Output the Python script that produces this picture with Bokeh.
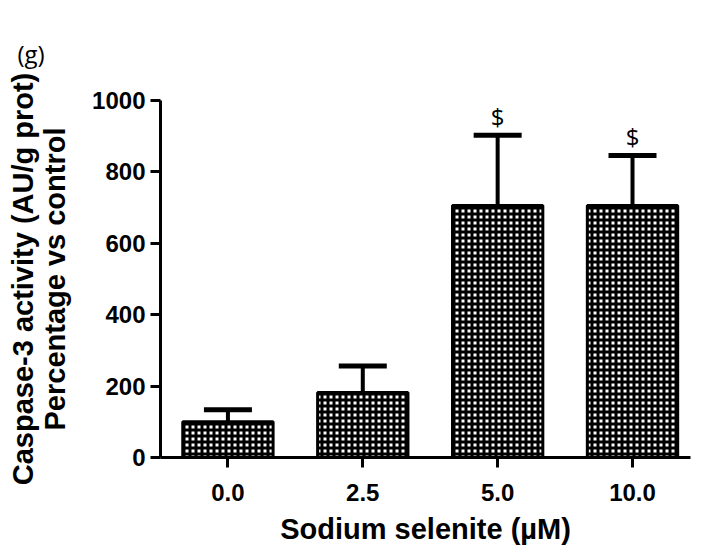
from bokeh.plotting import figure
from bokeh.models import ColumnDataSource, Range1d, FixedTicker, Whisker, TeeHead
from bokeh.core.properties import value
from bokeh.embed import file_html
from bokeh.resources import INLINE

categories = ["0.0", "2.5", "5.0", "10.0"]
means = [100, 182, 706, 706]
upper = [134, 256, 903, 846]
marks = ["", "", "$", "$"]
panel = "(g)"

xs = list(range(len(categories)))
src = ColumnDataSource(dict(x=xs, top=means, upper=upper, mark=marks))

p = figure(width=710, height=553, output_backend="svg", toolbar_location=None,
           x_range=Range1d(-0.5, 3.43), y_range=Range1d(0, 1000),
           min_border_left=160, min_border_right=20, min_border_top=100, min_border_bottom=96)
p.outline_line_color = None
p.grid.grid_line_color = None

# panel letter as the title, pushed to the top-left corner
p.title.text = panel
p.title.align = "left"
p.title.offset = -143
p.title.text_font = "Open Sans"
p.title.text_font_style = "normal"
p.title.text_font_size = "24px"
p.title.text_color = "black"
p.title.standoff = 62

# error bars (upper only)
p.segment(x0="x", y0="top", x1="x", y1="upper", source=src, line_color="black", line_width=4)
w = Whisker(source=src, base="x", upper="upper", lower="upper",
            line_width=0, line_alpha=0)
w.upper_head = TeeHead(size=48, line_width=5, line_color="black")
w.lower_head = None
p.add_layout(w)

p.vbar(x="x", top="top", bottom=0, width=0.67, source=src,
       fill_color="white", line_color="black", line_width=3,
       hatch_pattern="cross", hatch_color="black", hatch_scale=6, hatch_weight=3)

p.text(x="x", y="upper", text="mark", source=src, text_align="center", text_baseline="bottom",
       y_offset=-2, text_font=value("Open Sans"), text_font_size="24px", text_color="black")

for ax in (p.xaxis[0], p.yaxis[0]):
    ax.axis_line_width = 3
    ax.major_tick_line_width = 3
    ax.major_tick_out = 10
    ax.major_tick_in = 0
    ax.minor_tick_line_color = None
    ax.major_label_text_font = "Liberation Sans"
    ax.major_label_text_font_style = "bold"
    ax.major_label_text_font_size = "24px"
    ax.major_label_text_color = "black"
    ax.axis_label_text_font = "Liberation Sans"
    ax.axis_label_text_font_style = "bold"
    ax.axis_label_text_font_size = "29px"
    ax.axis_label_text_color = "black"
    ax.axis_label_text_line_height = 1.0

p.yaxis.ticker = FixedTicker(ticks=[0, 200, 400, 600, 800, 1000])
p.yaxis.axis_label = "Caspase-3 activity (AU/g prot)\nPercentage vs control"
p.yaxis.major_label_standoff = 5
p.yaxis.axis_label_standoff = 18

p.xaxis.ticker = FixedTicker(ticks=xs)
p.xaxis.major_label_overrides = {i: c for i, c in enumerate(categories)}
p.xaxis.axis_label = "Sodium selenite (µM)"
p.xaxis.major_label_standoff = 16
p.xaxis.axis_label_standoff = 9

open("out.html", "w").write(file_html(p, INLINE))
